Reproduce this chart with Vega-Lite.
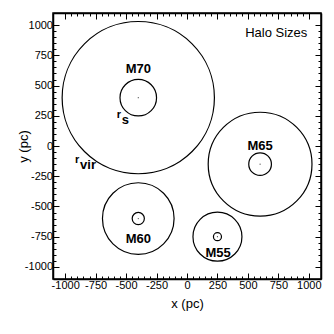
{
  "$schema": "https://vega.github.io/schema/vega-lite/v6.json",
  "width": 268,
  "height": 266,
  "autosize": "none",
  "padding": {"left": 53, "top": 13, "right": 13, "bottom": 55},
  "background": "white",
  "config": {
    "font": "Liberation Sans",
    "view": {"stroke": "black", "strokeWidth": 1.5},
    "axis": {
      "grid": false,
      "domainColor": "black",
      "domainWidth": 1.5,
      "tickColor": "black",
      "tickWidth": 1,
      "labelColor": "black",
      "labelFont": "Liberation Sans",
      "labelFontSize": 11,
      "titleFont": "Liberation Sans",
      "titleFontSize": 13,
      "titleFontWeight": "normal",
      "titleColor": "black"
    }
  },
  "datasets": {
    "halos": [
      {"name": "M70", "x": -400, "y": 400, "rvir": 625, "rs": 150, "lx": -400, "ly": 633},
      {"name": "M65", "x": 600, "y": -150, "rvir": 426, "rs": 93, "lx": 600, "ly": 0},
      {"name": "M60", "x": -400, "y": -600, "rvir": 294, "rs": 50, "lx": -400, "ly": -773},
      {"name": "M55", "x": 250, "y": -750, "rvir": 201, "rs": 33, "lx": 255, "ly": -881}
    ],
    "notes": [
      {"t": "r", "sub": "s", "x": -577, "y": 229},
      {"t": "r", "sub": "vir", "x": -919, "y": -143}
    ],
    "title": [
      {"t": "Halo Sizes", "x": 988, "y": 935}
    ]
  },
  "layer": [
    {
      "data": {"name": "halos"},
      "mark": {"type": "point", "filled": false, "stroke": "black", "strokeWidth": 1.2, "opacity": 1},
      "encoding": {
        "x": {
          "field": "x", "type": "quantitative",
          "scale": {"domain": [-1100, 1100], "nice": false, "zero": false},
          "axis": {
            "orient": "bottom", "title": "x (pc)",
            "values": [-1000,-950,-900,-850,-800,-750,-700,-650,-600,-550,-500,-450,-400,-350,-300,-250,-200,-150,-100,-50,0,50,100,150,200,250,300,350,400,450,500,550,600,650,700,750,800,850,900,950,1000],
            "labelExpr": "datum.value % 250 === 0 ? toString(datum.value) : ''",
            "tickSize": {"condition": {"test": "datum.value % 250 === 0", "value": -6}, "value": -3},
            "labelPadding": 6, "titleY": 24, "titleBaseline": "middle", "labelFlush": false, "labelOverlap": false
          }
        },
        "y": {
          "field": "y", "type": "quantitative",
          "scale": {"domain": [-1100, 1100], "nice": false, "zero": false},
          "axis": {
            "orient": "left", "title": "y (pc)",
            "values": [-1000,-950,-900,-850,-800,-750,-700,-650,-600,-550,-500,-450,-400,-350,-300,-250,-200,-150,-100,-50,0,50,100,150,200,250,300,350,400,450,500,550,600,650,700,750,800,850,900,950,1000],
            "labelExpr": "datum.value % 250 === 0 ? toString(datum.value) : ''",
            "tickSize": {"condition": {"test": "datum.value % 250 === 0", "value": -6}, "value": -3},
            "labelPadding": 6.5, "titleX": -29.5, "titleY": 133, "titleBaseline": "middle", "titleAlign": "center", "titleAngle": -90, "labelFlush": false, "labelOverlap": false
          }
        },
        "size": {
          "field": "rvir", "type": "quantitative",
          "scale": {"type": "pow", "exponent": 2, "domain": [0, 1100], "range": [0, 71824], "zero": true},
          "legend": null
        }
      }
    },
    {
      "data": {"name": "halos"},
      "mark": {"type": "point", "filled": false, "stroke": "black", "strokeWidth": 1.2, "opacity": 1},
      "encoding": {
        "x": {
          "field": "x", "type": "quantitative",
          "axis": {
            "orient": "top", "title": null, "labels": false,
            "values": [-1000,-950,-900,-850,-800,-750,-700,-650,-600,-550,-500,-450,-400,-350,-300,-250,-200,-150,-100,-50,0,50,100,150,200,250,300,350,400,450,500,550,600,650,700,750,800,850,900,950,1000],
            "tickSize": {"condition": {"test": "datum.value % 250 === 0", "value": -6}, "value": -3}
          }
        },
        "y": {
          "field": "y", "type": "quantitative",
          "axis": {
            "orient": "right", "title": null, "labels": false,
            "values": [-1000,-950,-900,-850,-800,-750,-700,-650,-600,-550,-500,-450,-400,-350,-300,-250,-200,-150,-100,-50,0,50,100,150,200,250,300,350,400,450,500,550,600,650,700,750,800,850,900,950,1000],
            "tickSize": {"condition": {"test": "datum.value % 250 === 0", "value": -6}, "value": -3}
          }
        },
        "size": {"field": "rs", "type": "quantitative", "legend": null}
      }
    },
    {
      "data": {"name": "halos"},
      "mark": {"type": "point", "filled": true, "color": "black", "size": 1.5, "opacity": 0.7},
      "encoding": {
        "x": {"field": "x", "type": "quantitative", "axis": null},
        "y": {"field": "y", "type": "quantitative", "axis": null}
      }
    },
    {
      "data": {"name": "halos"},
      "mark": {"type": "text", "fontSize": 13, "fontWeight": "bold", "color": "black", "baseline": "middle", "align": "center"},
      "encoding": {
        "x": {"field": "lx", "type": "quantitative", "axis": null},
        "y": {"field": "ly", "type": "quantitative", "axis": null},
        "text": {"field": "name"}
      }
    },
    {
      "data": {"name": "notes"},
      "mark": {"type": "text", "fontSize": 11, "fontWeight": "bold", "color": "black", "baseline": "alphabetic", "align": "left"},
      "encoding": {
        "x": {"field": "x", "type": "quantitative", "axis": null},
        "y": {"field": "y", "type": "quantitative", "axis": null},
        "text": {"field": "t"}
      }
    },
    {
      "data": {"name": "notes"},
      "mark": {"type": "text", "fontSize": 13, "fontWeight": "bold", "color": "black", "baseline": "alphabetic", "align": "left", "dx": 5, "dy": 6},
      "encoding": {
        "x": {"field": "x", "type": "quantitative", "axis": null},
        "y": {"field": "y", "type": "quantitative", "axis": null},
        "text": {"field": "sub"}
      }
    },
    {
      "data": {"name": "title"},
      "mark": {"type": "text", "fontSize": 13, "color": "black", "baseline": "middle", "align": "right"},
      "encoding": {
        "x": {"field": "x", "type": "quantitative", "axis": null},
        "y": {"field": "y", "type": "quantitative", "axis": null},
        "text": {"field": "t"}
      }
    }
  ],
  "resolve": {"axis": {"x": "independent", "y": "independent"}}
}
